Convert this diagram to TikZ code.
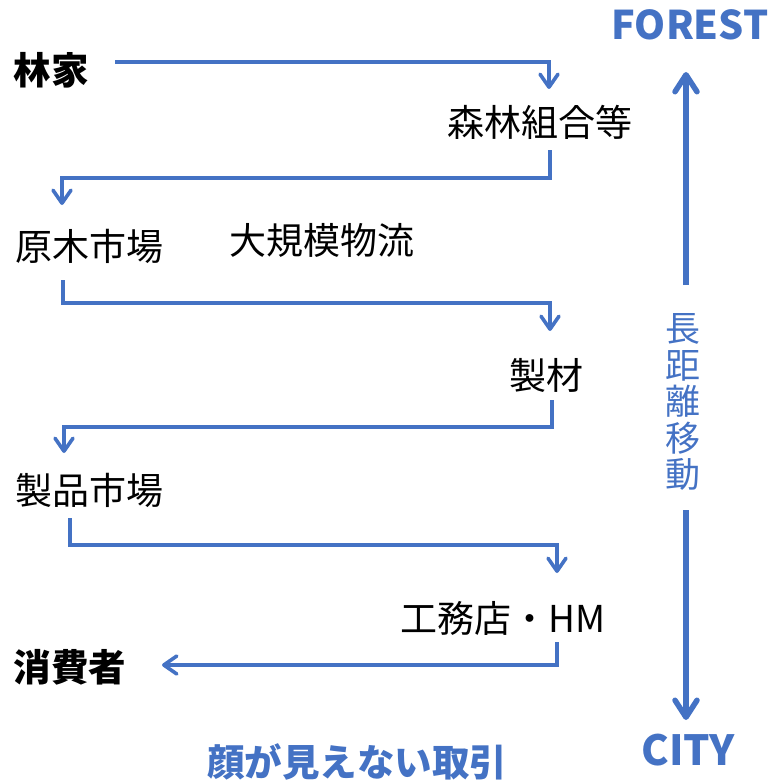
\documentclass[tikz,border=0pt]{standalone}
\usepackage{fontspec}
\setmainfont{Noto Sans CJK JP}
\newfontfamily\jp{Noto Sans CJK JP}
\usetikzlibrary{arrows.meta}
\definecolor{flowblue}{HTML}{4472C4}
\tikzset{
  lbl/.style={inner sep=0pt, font=\jp\fontsize{37}{38}\selectfont, text=black},
  blbl/.style={lbl, font=\jp\bfseries\fontsize{37.5}{38}\selectfont},
  bluelbl/.style={inner sep=0pt, text=flowblue},
  flow/.style={draw=flowblue, line width=3.6pt, line join=miter,
    -{Straight Barb[length=13pt,width=18pt,line cap=round,line join=round]}},
  bigflow/.style={draw=flowblue, line width=5.5pt,
    -{Straight Barb[length=17pt,width=22pt,line cap=round,line join=round]}}
}
\begin{document}
\begin{tikzpicture}[x=1pt,y=-1pt]
\useasboundingbox (0,0) rectangle (769,781);
% labels
\node[blbl] (rinka) at (51,70) {林家};
\node[lbl] (shinrin) at (540,122) {森林組合等};
\node[lbl] (genboku) at (89,246) {原木市場};
\node[lbl] (daikibo) at (322,240) {大規模物流};
\node[lbl] (seizai) at (546,375) {製材};
\node[lbl] (seihin) at (89,490) {製品市場};
\node[lbl] (koumu) at (503,618) {工務店・HM};
\node[blbl] (shouhi) at (70,667) {消費者};
\node[bluelbl, font=\jp\bfseries\fontsize{37.5}{38}\selectfont] (kao) at (357,762) {顔が見えない取引};
\node[bluelbl, font=\jp\bfseries\fontsize{39.5}{42}\selectfont] (forest) at (690,25) {FOREST};
\node[bluelbl, font=\jp\bfseries\fontsize{41.5}{44}\selectfont] (city) at (688,750) {CITY};
\node[bluelbl, align=center, font=\jp\fontsize{35}{36.5}\selectfont] (chokyori) at (683,402) {長\\距\\離\\移\\動};
% connector end points
\coordinate (a1s) at (115,62);  \coordinate (a1e) at (549,89);
\coordinate (a2s) at (550,150); \coordinate (a2e) at (62,205);
\coordinate (a3s) at (63,280);  \coordinate (a3e) at (550,331);
\coordinate (a4s) at (552,400); \coordinate (a4e) at (64,453);
\coordinate (a5s) at (70,518);  \coordinate (a5e) at (557,573);
\coordinate (a6s) at (557,642); \coordinate (a6e) at (162,665);
\coordinate (ups) at (686,285); \coordinate (upe) at (686,72);
\coordinate (dns) at (686,510); \coordinate (dne) at (686,720);
% connectors
\draw[flow] (a1s) -| (a1e);
\draw[flow] (a2s) -- (550,178) -| (a2e);
\draw[flow] (a3s) -- (63,303) -| (a3e);
\draw[flow] (a4s) -- (552,427) -| (a4e);
\draw[flow] (a5s) -- (70,545) -| (a5e);
\draw[flow] (a6s) |- (a6e);
\draw[bigflow] (ups) -- (upe);
\draw[bigflow] (dns) -- (dne);
\end{tikzpicture}
\end{document}
